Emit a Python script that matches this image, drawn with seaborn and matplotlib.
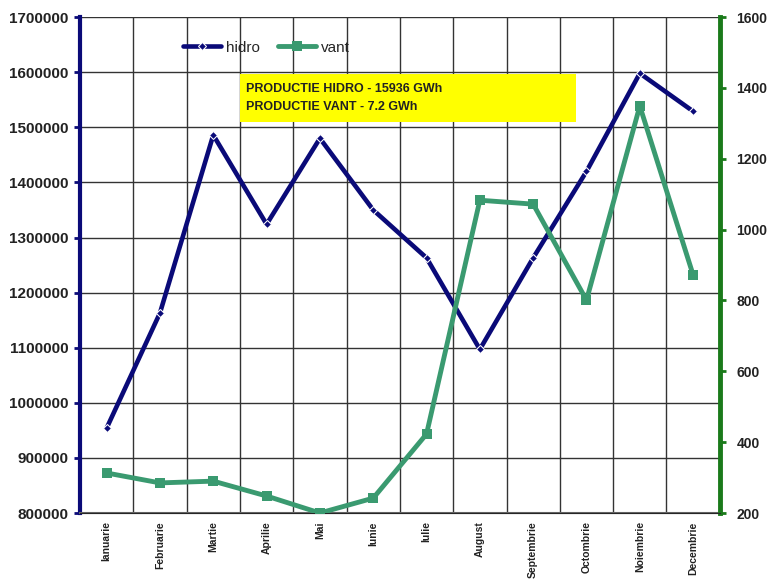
import numpy as np
import pandas as pd
import matplotlib
matplotlib.use("Agg")
import matplotlib.pyplot as plt
import matplotlib.ticker as mticker
import seaborn as sns

# monthly production: hydro (left axis) and wind (right axis)
luni = ['Ianuarie', 'Februarie', 'Martie', 'Aprilie', 'Mai', 'Iunie', 'Iulie',
        'August', 'Septembrie', 'Octombrie', 'Noiembrie', 'Decembrie']
hidro = [954000, 1163000, 1486000, 1324000, 1480000, 1350000, 1263000,
         1097000, 1263000, 1420000, 1598000, 1529000]
vant = [313, 285, 290, 248, 200, 242, 423, 1083, 1072, 801, 1349, 872]

df = pd.DataFrame({'luna': luni, 'pos': np.arange(len(luni)), 'hidro': hidro, 'vant': vant})

sns.set_style('white')
plt.rcParams['font.family'] = ['Liberation Sans', 'DejaVu Sans']

fig = plt.figure(figsize=(7.69, 5.80), dpi=100)
ax = fig.add_axes([0.104, 0.1155, 0.832, 0.855])
ax2 = ax.twinx()

navy = '#0a0a78'
green = '#3a9a70'

sns.lineplot(data=df, x='pos', y='hidro', ax=ax, color=navy, lw=3.3, marker='D',
             markersize=4, sort=False, label='hidro', legend=False, zorder=3)
sns.lineplot(data=df, x='pos', y='vant', ax=ax2, color=green, lw=3.5, marker='s',
             markersize=7, markeredgewidth=0, sort=False, label='vant', legend=False, zorder=3)

ax.set_xlim(-0.5, len(luni) - 0.5)
ax.set_ylim(800000, 1700000)
ax2.set_ylim(200, 1600)
ax.set_yticks(np.arange(800000, 1700001, 100000))
ax.yaxis.set_major_formatter(mticker.FuncFormatter(lambda v, p: f'{int(v)}'))
ax2.set_yticks(np.arange(200, 1601, 200))
ax.set_xticks(df['pos'])
ax.set_xticklabels(luni, rotation=90, fontsize=7.5, fontweight='bold', color='#222222')
ax.set_xticks(np.arange(-0.5, len(luni), 1), minor=True)

ax.grid(True, which='minor', axis='x', color='#333333', lw=1)
ax.grid(True, which='major', axis='y', color='#333333', lw=1)
ax.set_axisbelow(True)
ax.tick_params(axis='x', which='both', length=0, pad=6)
ax.tick_params(axis='y', length=4, width=2, color=navy, labelsize=11, pad=4)
ax2.tick_params(axis='y', length=4, width=2, color='#1a7a1a', labelsize=10, pad=8)
for lbl in ax.get_yticklabels() + ax2.get_yticklabels():
    lbl.set_fontweight('bold')
    lbl.set_color('#222222')

ax.set_xlabel('')
ax.set_ylabel('')
ax2.set_ylabel('')

for a in (ax, ax2):
    a.spines['top'].set_visible(False)
    a.spines['left'].set_visible(False)
    a.spines['right'].set_visible(False)
ax.spines['left'].set_visible(True)
ax.spines['left'].set_color(navy)
ax.spines['left'].set_linewidth(3)
ax2.spines['right'].set_visible(True)
ax2.spines['right'].set_color('#1a7a1a')
ax2.spines['right'].set_linewidth(3.5)
ax.spines['bottom'].set_color('#666666')
ax.spines['bottom'].set_linewidth(1.5)

h1, l1 = ax.get_legend_handles_labels()
h2, l2 = ax2.get_legend_handles_labels()
leg = ax2.legend(h1 + h2, l1 + l2, loc='upper left', bbox_to_anchor=(0.14, 0.98), ncol=2,
                 frameon=False, fontsize=11, handlelength=2.5, columnspacing=1.2,
                 handletextpad=0.3)
leg.set_zorder(5)

# yellow annotation box
ax2.add_patch(plt.Rectangle((0.25, 0.788), 0.525, 0.097, transform=ax.transAxes,
                            fc='#ffff00', ec='none', zorder=5))
ax2.text(0.259, 0.837, 'PRODUCTIE HIDRO - 15936 GWh\nPRODUCTIE VANT - 7.2 GWh',
         transform=ax.transAxes, fontsize=9, fontweight='bold', color='#222222',
         va='center', ha='left', linespacing=1.6, zorder=6)

fig.savefig('out.png', dpi=100)
